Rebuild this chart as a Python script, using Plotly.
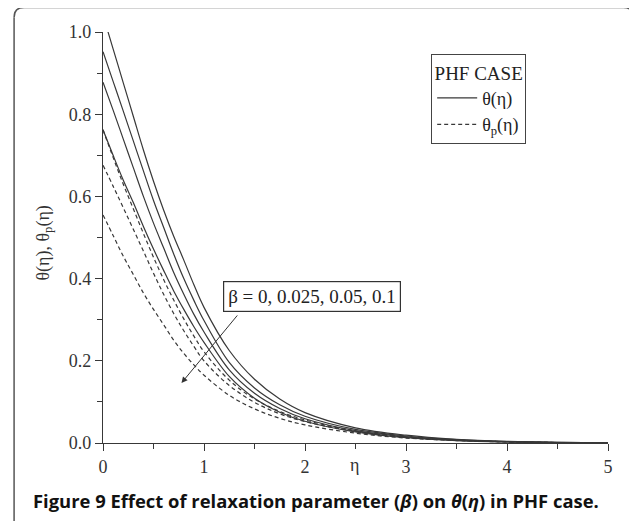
import plotly.graph_objects as go

# ---------------- data ----------------
eta = [0, 0.1, 0.2, 0.3, 0.4, 0.5, 0.6, 0.7, 0.8, 0.9, 1.0,
       1.25, 1.5, 1.75, 2.0, 2.5, 3.0, 3.5, 4.0, 4.5, 5.0]

# theta(eta), beta = 0, 0.025, 0.05, 0.1
theta_b0 = [1.041, 0.959, 0.877, 0.795, 0.713, 0.637, 0.567, 0.503, 0.445, 0.385, 0.33,
            0.225, 0.155, 0.107, 0.074, 0.037, 0.019, 0.009, 0.004, 0.0015, 0.0005]
theta_b1 = [0.952, 0.88, 0.808, 0.735, 0.662, 0.59, 0.525, 0.46, 0.40, 0.347, 0.298,
            0.196, 0.134, 0.093, 0.065, 0.033, 0.017, 0.008, 0.0035, 0.0013, 0.0004]
theta_b2 = [0.878, 0.81, 0.74, 0.67, 0.60, 0.535, 0.475, 0.415, 0.362, 0.313, 0.27,
            0.178, 0.121, 0.084, 0.059, 0.030, 0.015, 0.007, 0.003, 0.0012, 0.0003]
theta_b3 = [0.762, 0.70, 0.64, 0.585, 0.527, 0.472, 0.42, 0.37, 0.325, 0.283, 0.245,
            0.162, 0.109, 0.075, 0.053, 0.027, 0.013, 0.006, 0.0027, 0.001, 0.0003]

# theta_p(eta)
thetap_a = [0.762, 0.695, 0.63, 0.57, 0.51, 0.452, 0.398, 0.348, 0.302, 0.26, 0.222,
            0.153, 0.107, 0.077, 0.056, 0.029, 0.0145, 0.007, 0.003, 0.0011, 0.0003]
thetap_b = [0.676, 0.625, 0.573, 0.52, 0.467, 0.413, 0.362, 0.315, 0.273, 0.235, 0.20,
            0.14, 0.099, 0.071, 0.052, 0.028, 0.014, 0.007, 0.003, 0.0011, 0.0003]
thetap_c = [0.555, 0.505, 0.455, 0.41, 0.365, 0.325, 0.288, 0.25, 0.218, 0.19, 0.165,
            0.116, 0.083, 0.060, 0.044, 0.024, 0.012, 0.006, 0.0025, 0.001, 0.0003]

solid_series = [theta_b0, theta_b1, theta_b2, theta_b3]
dashed_series = [thetap_a, thetap_b, thetap_c]

x_ticks = [0, 1, 2, 3, 4, 5]
y_ticks = [0.0, 0.2, 0.4, 0.6, 0.8, 1.0]
y_tick_text = ["0.0", "0.2", "0.4", "0.6", "0.8", "1.0"]

# ---------------- figure ----------------
LINE = "#383838"
SERIF = "Liberation Serif"

fig = go.Figure()
for i, s in enumerate(solid_series):
    fig.add_trace(go.Scatter(x=eta, y=s, mode="lines", line=dict(color=LINE, width=1.2, shape="spline"),
                             name="θ(η)", showlegend=(i == 0)))
for i, s in enumerate(dashed_series):
    fig.add_trace(go.Scatter(x=eta, y=s, mode="lines",
                             line=dict(color=LINE, width=1.2, dash="4px,3px", shape="spline"),
                             name="θ<sub>p</sub>(η)", showlegend=(i == 0)))

# the page body has an 8px margin: page coordinates are shifted by OFF
OFF = 8
W, H = 637, 521
L = 102.5 - OFF
T = 32 - OFF
R = W - (608 - OFF)
B = H - (443 - OFF)
pw, ph = W - L - R, H - T - B

def px(xp):
    return (xp - OFF - L) / pw

def py(yp):
    return (H - B - (yp - OFF)) / ph

tickfont = dict(family=SERIF, size=18, color="#333")

fig.update_layout(
    width=W, height=H,
    margin=dict(l=L, r=R, t=T, b=B, pad=0),
    paper_bgcolor="white", plot_bgcolor="white",
    font=dict(family=SERIF, size=18, color="#222"),
    showlegend=True,
    legend=dict(
        x=px(431), y=py(54), xanchor="left", yanchor="top",
        bordercolor="#444", borderwidth=1, bgcolor="white",
        title=dict(text="PHF CASE", side="top center", font=dict(family=SERIF, size=19, color="#222")),
        font=dict(family=SERIF, size=18, color="#222"),
        itemwidth=40, tracegroupgap=0,
    ),
    xaxis=dict(
        range=[0, 5], tickvals=x_ticks, ticktext=[str(v) for v in x_ticks],
        showgrid=False, zeroline=False, showline=True, linecolor=LINE, linewidth=1.3,
        ticks="outside", ticklen=7, tickwidth=1.2, tickcolor=LINE,
        minor=dict(dtick=0.5, ticks="outside", ticklen=5, tickwidth=1.2, tickcolor=LINE),
        tickfont=tickfont,
    ),
    yaxis=dict(
        range=[0, 1], tickvals=y_ticks, ticktext=y_tick_text,
        showgrid=False, zeroline=False, showline=True, linecolor=LINE, linewidth=1.3,
        ticks="outside", ticklen=7, tickwidth=1.2, tickcolor=LINE,
        minor=dict(dtick=0.1, ticks="outside", ticklen=5, tickwidth=1.2, tickcolor=LINE),
        tickfont=tickfont,
    ),
)

# y-axis title
fig.add_annotation(xref="paper", yref="paper", x=px(44), y=py(243), text="θ(η), θ<sub>p</sub>(η)",
                   textangle=-90, showarrow=False, font=dict(family=SERIF, size=18, color="#333"),
                   xanchor="center", yanchor="middle")
# x-axis title
fig.add_annotation(xref="x", yref="paper", x=2.49, y=py(465), text="η", showarrow=False,
                   font=dict(family=SERIF, size=18, color="#333"), xanchor="center", yanchor="middle")

# beta label box
fig.add_annotation(xref="paper", yref="paper", x=px(312), y=py(296), text="β = 0, 0.025, 0.05, 0.1",
                   showarrow=False, font=dict(family=SERIF, size=19, color="#222"),
                   bordercolor="#333", borderwidth=1.2, borderpad=4, bgcolor="white",
                   xanchor="center", yanchor="middle")
# arrow
fig.add_annotation(xref="x", yref="y", axref="x", ayref="y",
                   x=0.777, y=0.146, ax=1.342, ay=0.314, text="",
                   showarrow=True, arrowhead=2, arrowsize=1.2, arrowwidth=1, arrowcolor="#333")

# caption
fig.add_annotation(xref="paper", yref="paper", x=px(30), y=py(500), xanchor="left", yanchor="middle",
                   text="<b>Figure 9 Effect of relaxation parameter (<i>β</i>) on <i>θ</i>(<i>η</i>) in PHF case.</b>",
                   showarrow=False, font=dict(family="Open Sans", size=18.4, color="#111"))

# rounded frame (separate segments, kept inside the figure)
fx0, fx1 = px(13.5), px(633.5)
fy_top = py(7.5)
fy_bot = py(H + OFF - 1)
rx, ry = 10 / pw, 10 / ph
frame = dict(color="#555", width=1.5)
fig.add_shape(type="line", xref="paper", yref="paper", x0=fx0, x1=fx0, y0=fy_bot, y1=fy_top - ry, line=frame)
fig.add_shape(type="line", xref="paper", yref="paper", x0=fx1, x1=fx1, y0=fy_bot, y1=fy_top - ry, line=frame)
fig.add_shape(type="line", xref="paper", yref="paper", x0=fx0 + rx, x1=fx1 - rx, y0=fy_top, y1=fy_top, line=frame)
fig.add_shape(type="path", xref="paper", yref="paper",
              path=f"M {fx0},{fy_top - ry} Q {fx0},{fy_top} {fx0 + rx},{fy_top}", line=frame)
fig.add_shape(type="path", xref="paper", yref="paper",
              path=f"M {fx1 - rx},{fy_top} Q {fx1},{fy_top} {fx1},{fy_top - ry}", line=frame)

fig.write_html("out.html", config={"displayModeBar": False})
